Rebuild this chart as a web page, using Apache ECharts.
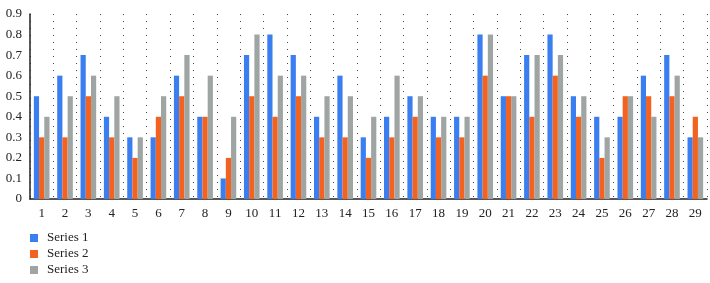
<!DOCTYPE html>
<html>
<head>
<meta charset="utf-8">
<script src="https://cdn.jsdelivr.net/npm/echarts@6/dist/echarts.min.js"></script>
<style>
  html, body { margin: 0; padding: 0; background: #fff; }
  #chart { width: 710px; height: 283px; }
</style>
</head>
<body>
<div id="chart"></div>
<script>
const categories = ['1','2','3','4','5','6','7','8','9','10','11','12','13','14','15','16','17','18','19','20','21','22','23','24','25','26','27','28','29'];
const series1 = [0.5,0.6,0.7,0.4,0.3,0.3,0.6,0.4,0.1,0.7,0.8,0.7,0.4,0.6,0.3,0.4,0.5,0.4,0.4,0.8,0.5,0.7,0.8,0.5,0.4,0.4,0.6,0.7,0.3];
const series2 = [0.3,0.3,0.5,0.3,0.2,0.4,0.5,0.4,0.2,0.5,0.4,0.5,0.3,0.3,0.2,0.3,0.4,0.3,0.3,0.6,0.5,0.4,0.6,0.4,0.2,0.5,0.5,0.5,0.4];
const series3 = [0.4,0.5,0.6,0.5,0.3,0.5,0.7,0.6,0.4,0.8,0.6,0.6,0.5,0.5,0.4,0.6,0.5,0.4,0.4,0.8,0.5,0.7,0.7,0.5,0.3,0.5,0.4,0.6,0.3];
const seriesNames = ['Series 1', 'Series 2', 'Series 3'];
const colors = ['#3b7ef0', '#f4621f', '#9ea5a2'];

const font = 'Liberation Serif';
const chart = echarts.init(document.getElementById('chart'));

const option = {
    animation: false,
    color: colors,
    textStyle: { fontFamily: font },
    grid: { left: 30, right: 3, top: 14, bottom: 84 },
    legend: {
        orient: 'vertical',
        left: 30,
        top: 231,
        padding: 0,
        itemWidth: 8,
        itemHeight: 8,
        itemGap: 2,
        icon: 'rect',
        textStyle: { fontFamily: font, fontSize: 13, lineHeight: 14, color: '#222', padding: [0, 0, 0, 4] },
        data: seriesNames
    },
    xAxis: {
        type: 'category',
        data: categories,
        axisLine: { show: true, lineStyle: { color: '#222', width: 1.5 } },
        axisTick: { show: false },
        axisLabel: { fontFamily: font, fontSize: 13, color: '#222', margin: 8, interval: 0 },
        splitLine: { show: true, lineStyle: { type: [1, 6], color: '#444', width: 1 } }
    },
    yAxis: {
        type: 'value',
        min: 0,
        max: 0.9,
        interval: 0.1,
        axisLine: { show: true, lineStyle: { color: '#222', width: 1.5 } },
        axisTick: { show: false },
        axisLabel: {
            fontFamily: font, fontSize: 13, color: '#222', margin: 8,
            formatter: v => (v === 0 ? '0' : v.toFixed(1))
        },
        splitLine: { show: false }
    },
    series: [series1, series2, series3].map((d, i) => ({
        name: seriesNames[i],
        type: 'bar',
        data: d,
        barGap: '0%',
        barCategoryGap: '33%'
    }))
};

chart.setOption(option);
</script>
</body>
</html>
